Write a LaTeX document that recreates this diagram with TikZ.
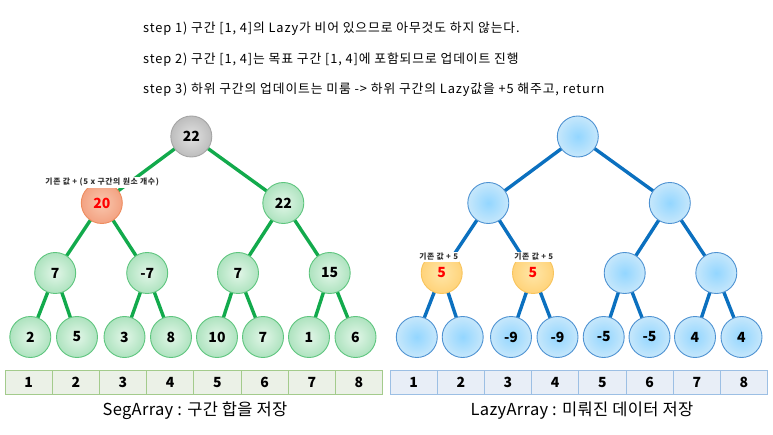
\documentclass[tikz,border=0pt]{standalone}
\usepackage{fontspec}
\setmainfont{Noto Sans CJK KR}
\usetikzlibrary{shapes.geometric}
\definecolor{gedge}{HTML}{12AA4C}
\definecolor{bedge}{HTML}{0B70BF}
\definecolor{gin}{HTML}{E2F6E8}
\definecolor{gout}{HTML}{AEE3BF}
\definecolor{gbd}{HTML}{5EC57E}
\definecolor{grin}{HTML}{E2E2E2}
\definecolor{grout}{HTML}{BDBDBD}
\definecolor{grbd}{HTML}{A5A5A5}
\definecolor{sin}{HTML}{F9C7AE}
\definecolor{sout}{HTML}{F3A282}
\definecolor{sbd}{HTML}{EE8C5E}
\definecolor{oin}{HTML}{FFE6A8}
\definecolor{oout}{HTML}{FFD37A}
\definecolor{obd}{HTML}{F8C45C}
\definecolor{bin}{HTML}{93D6FF}
\definecolor{bout}{HTML}{C6E7FB}
\definecolor{bbd}{HTML}{4E92D2}
\definecolor{lfill}{HTML}{EBF1E7}
\definecolor{lbd}{HTML}{A3CB8C}
\definecolor{rfill}{HTML}{E8EEF7}
\definecolor{rbd}{HTML}{9CBFE4}
\tikzset{
  nd/.style={circle,minimum size=41pt,inner sep=0pt,line width=0.9pt,font=\bfseries\fontsize{14}{14}\selectfont},
  gnode/.style={nd,draw=gbd,inner color=gin,outer color=gout},
  grnode/.style={nd,draw=grbd,inner color=grin,outer color=grout},
  snode/.style={nd,draw=sbd,inner color=sin,outer color=sout,text=red},
  onode/.style={nd,draw=obd,inner color=oin,outer color=oout,text=red},
  bnode/.style={nd,draw=bbd,inner color=bin,outer color=bout},
  gline/.style={draw=gedge,line width=3.4pt},
  bline/.style={draw=bedge,line width=3.4pt},
  lcell/.style={draw=lbd,fill=lfill,line width=0.9pt,minimum width=47.2pt,minimum height=23.6pt,inner sep=0pt,font=\bfseries\fontsize{14}{14}\selectfont},
  rcell/.style={draw=rbd,fill=rfill,line width=0.9pt,minimum width=47.2pt,minimum height=23.6pt,inner sep=0pt,font=\bfseries\fontsize{14}{14}\selectfont},
  note/.style={fill=white,inner sep=1pt,font=\bfseries\fontsize{7.8}{8}\selectfont\addfontfeatures{LetterSpace=8},text=black!80},
  steptxt/.style={anchor=west,inner sep=0pt,font=\fontsize{12.8}{13}\selectfont\addfontfeatures{LetterSpace=7}},
  caption/.style={font=\fontsize{16.5}{17}\selectfont\addfontfeatures{LetterSpace=2}}
}
\begin{document}
\begin{tikzpicture}[x=1pt,y=-1pt]
\useasboundingbox (0,0) rectangle (773,435);
% step texts
\node[steptxt] (s1) at (143,28.5) {step 1) 구간 [1, 4]의 Lazy가 비어 있으므로 아무것도 하지 않는다.};
\node[steptxt] (s2) at (143,59.5) {step 2) 구간 [1, 4]는 목표 구간 [1, 4]에 포함되므로 업데이트 진행};
\node[steptxt] (s3) at (143,90) {step 3) 하위 구간의 업데이트는 미룸 -> 하위 구간의 Lazy값을 +5 해주고, return};

% ---------- left tree ----------
\coordinate (a1) at (191.3,136.5);
\coordinate (a2) at (101.8,203);
\coordinate (a3) at (283.3,203);
\coordinate (a4) at (55.2,273);
\coordinate (a5) at (147.2,273);
\coordinate (a6) at (238,273);
\coordinate (a7) at (329.7,273);
\foreach \i/\x in {8/30.3,9/77,10/124.5,11/171,12/217,13/263,14/309,15/355.5}
  \coordinate (a\i) at (\x,337);
\foreach \p/\c in {1/2,1/3,2/4,2/5,3/6,3/7,4/8,4/9,5/10,5/11,6/12,6/13,7/14,7/15}
  \draw[gline] (a\p) -- (a\c);
\node[grnode] (n1) at (a1) {22};
\node[snode] (n2) at (a2) {20};
\node[gnode] (n3) at (a3) {22};
\node[gnode] (n4) at (a4) {7};
\node[gnode] (n5) at (a5) {-7};
\node[gnode] (n6) at (a6) {7};
\node[gnode] (n7) at (a7) {15};
\foreach \i/\v in {8/2,9/5,10/3,11/8,12/10,13/7,14/1,15/6}
  \node[gnode] (n\i) at (a\i) {\v};
\node[note] (t1) at (102.2,182.5) {기존 값 + (5 x 구간의 원소 개수)};

% left array
\foreach \k in {1,...,8}
  \node[lcell] (lc\k) at ({5+23.6+47.2*(\k-1)},382.5) {\k};
\node[caption] (lcap) at (195,411) {SegArray : 구간 합을 저장};

% ---------- right tree ----------
\begin{scope}[xshift=386.5pt]
\coordinate (b1) at (191.3,136.5);
\coordinate (b2) at (101.8,203);
\coordinate (b3) at (283.3,203);
\coordinate (b4) at (55.2,273);
\coordinate (b5) at (146.5,273);
\coordinate (b6) at (238.2,273);
\coordinate (b7) at (329.8,273);
\foreach \i/\x in {8/30.3,9/76.2,10/124.5,11/171,12/217.2,13/263,14/308.5,15/355}
  \coordinate (b\i) at (\x,337);
\end{scope}
\foreach \p/\c in {1/2,1/3,2/4,2/5,3/6,3/7,4/8,4/9,5/10,5/11,6/12,6/13,7/14,7/15}
  \draw[bline] (b\p) -- (b\c);
\node[bnode] (m1) at (b1) {};
\node[bnode] (m2) at (b2) {};
\node[bnode] (m3) at (b3) {};
\node[onode] (m4) at (b4) {5};
\node[onode] (m5) at (b5) {5};
\node[bnode] (m6) at (b6) {};
\node[bnode] (m7) at (b7) {};
\foreach \i/\v in {8/{},9/{},10/-9,11/-9,12/-5,13/-5,14/4,15/4}
  \node[bnode] (m\i) at (b\i) {\v};
\node[note] (t2) at (438.7,257) {기존 값 + 5};
\node[note] (t3) at (533.8,257) {기존 값 + 5};

% right array
\foreach \k in {1,...,8}
  \node[rcell] (rc\k) at ({390+23.6+47.2*(\k-1)},382.5) {\k};
\node[caption] (rcap) at (582,411) {LazyArray : 미뤄진 데이터 저장};
\end{tikzpicture}
\end{document}
